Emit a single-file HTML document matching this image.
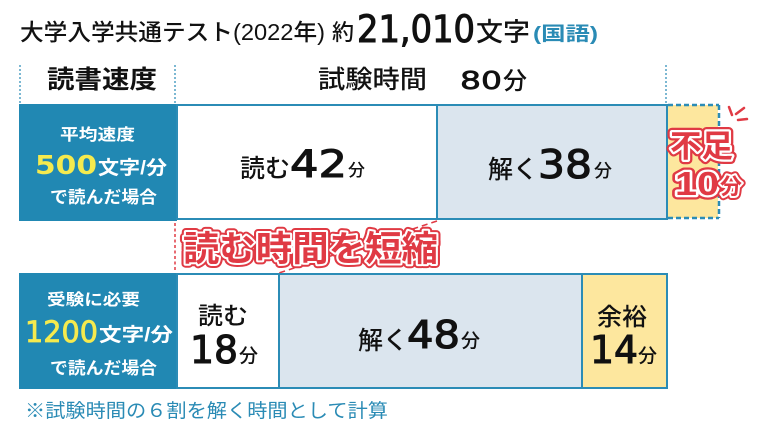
<!DOCTYPE html>
<html><head><meta charset="utf-8"><style>
html,body{margin:0;padding:0;background:#fff;}
svg{display:block;}
text{font-family:"Liberation Sans","Noto Sans CJK JP",sans-serif;}
.d{font-family:"DejaVu Sans","Liberation Sans",sans-serif;}
</style></head><body>
<svg width="768" height="438" viewBox="0 0 768 438" xmlns="http://www.w3.org/2000/svg">
<rect width="768" height="438" fill="#fff"/>
<!-- Title -->
<text x="20" y="40" font-size="23" font-weight="500" fill="#111" textLength="305" lengthAdjust="spacingAndGlyphs">大学入学共通テスト(2022年)</text>
<text x="332" y="40" font-size="22" font-weight="500" fill="#111">約</text>
<text class="d" x="357" y="42" font-size="37" fill="#111" stroke="#111" stroke-width="1.1" textLength="118" lengthAdjust="spacingAndGlyphs">21,010</text>
<text x="476" y="41" font-size="26" font-weight="500" fill="#111" textLength="54" lengthAdjust="spacingAndGlyphs">文字</text>
<text x="533" y="40" font-size="19" font-weight="700" fill="#2a8bb5" textLength="65" lengthAdjust="spacingAndGlyphs">(国語)</text>

<!-- header -->
<g stroke="#3592bb" stroke-width="1.3" stroke-dasharray="2 2">
<line x1="20" y1="65" x2="20" y2="104"/>
<line x1="175" y1="65" x2="175" y2="104"/>
<line x1="666" y1="65" x2="666" y2="104"/>
</g>
<text x="47" y="88" font-size="25" font-weight="700" fill="#111" textLength="110" lengthAdjust="spacingAndGlyphs">読書速度</text>
<text x="318" y="88" font-size="25" font-weight="500" fill="#111" textLength="109" lengthAdjust="spacingAndGlyphs">試験時間</text>
<text class="d" x="460" y="89" font-size="25" fill="#111" stroke="#111" stroke-width="0.7" textLength="42" lengthAdjust="spacingAndGlyphs">80</text>
<text x="503" y="89" font-size="24" font-weight="500" fill="#111">分</text>

<!-- Row 1 -->
<rect x="668" y="105" width="50" height="113" fill="#fde79e"/>
<g stroke="#2b8cb6" stroke-width="2.5" stroke-dasharray="5 3" fill="none">
<line x1="668" y1="105" x2="719" y2="105"/>
<line x1="719" y1="105" x2="719" y2="218"/>
<line x1="668" y1="218" x2="719" y2="218"/>
</g>
<rect x="19" y="104" width="158" height="117" fill="#2188b3"/>
<rect x="177" y="105" width="260" height="114" fill="#fff" stroke="#2b8cb6" stroke-width="2"/>
<rect x="437" y="105" width="230" height="114" fill="#dbe5ee" stroke="#2b8cb6" stroke-width="2"/>

<text x="60" y="140" font-size="16" font-weight="700" fill="#fff" textLength="75" lengthAdjust="spacingAndGlyphs">平均速度</text>
<text class="d" x="35" y="174" font-size="26" font-weight="700" fill="#f5ea4e" textLength="62" lengthAdjust="spacingAndGlyphs">500</text>
<text x="98" y="174" font-size="19" font-weight="700" fill="#fff" textLength="69" lengthAdjust="spacingAndGlyphs">文字/分</text>
<text x="50" y="203" font-size="17" font-weight="700" fill="#fff" textLength="107" lengthAdjust="spacingAndGlyphs">で読んだ場合</text>

<text x="240" y="177" font-size="25" font-weight="500" fill="#111" textLength="50" lengthAdjust="spacingAndGlyphs">読む</text>
<text class="d" x="290" y="177" font-size="37" fill="#111" stroke="#111" stroke-width="1.1" textLength="57" lengthAdjust="spacingAndGlyphs">42</text>
<text x="348" y="176" font-size="17" font-weight="500" fill="#111">分</text>

<text x="488" y="178" font-size="25" font-weight="500" fill="#111" textLength="50" lengthAdjust="spacingAndGlyphs">解く</text>
<text class="d" x="538" y="178" font-size="39" fill="#111" stroke="#111" stroke-width="1.1" textLength="54" lengthAdjust="spacingAndGlyphs">38</text>
<text x="594" y="177" font-size="18" font-weight="500" fill="#111">分</text>

<!-- 不足10分 -->
<g stroke="#e03a44" stroke-width="2.5" stroke-linecap="round">
<line x1="729" y1="107" x2="732" y2="115"/>
<line x1="736" y1="114" x2="744" y2="108"/>
<line x1="738" y1="120" x2="747" y2="119"/>
</g>
<g font-weight="700" font-size="31">
<text x="670" y="157" stroke="#e03a44" stroke-width="9" stroke-linejoin="round" fill="#e03a44" textLength="63" lengthAdjust="spacingAndGlyphs">不足</text>
<text x="670" y="157" stroke="#fff" stroke-width="4.5" stroke-linejoin="round" fill="#fff" textLength="63" lengthAdjust="spacingAndGlyphs">不足</text>
<text x="670" y="157" fill="#e03a44" textLength="63" lengthAdjust="spacingAndGlyphs">不足</text>
</g>
<g font-weight="700">
<text x="675" y="195" font-size="33" stroke="#e03a44" stroke-width="9" stroke-linejoin="round" fill="#e03a44" textLength="44" lengthAdjust="spacingAndGlyphs">10</text>
<text x="675" y="195" font-size="33" stroke="#fff" stroke-width="4.5" stroke-linejoin="round" fill="#fff" textLength="44" lengthAdjust="spacingAndGlyphs">10</text>
<text x="675" y="195" font-size="33" fill="#e03a44" textLength="44" lengthAdjust="spacingAndGlyphs">10</text>
<text x="720" y="194" font-size="22" stroke="#e03a44" stroke-width="8" stroke-linejoin="round" fill="#e03a44">分</text>
<text x="720" y="194" font-size="22" stroke="#fff" stroke-width="4" stroke-linejoin="round" fill="#fff">分</text>
<text x="720" y="194" font-size="22" fill="#e03a44">分</text>
</g>

<!-- 読む時間を短縮 -->
<line x1="175" y1="223" x2="175" y2="272" stroke="#e03a44" stroke-width="1.5" stroke-dasharray="3 2.5"/>
<line x1="437" y1="221" x2="279" y2="273" stroke="#e03a44" stroke-width="1.5" stroke-dasharray="6 4"/>
<g font-weight="700" font-size="35">
<text x="183" y="261" stroke="#e03a44" stroke-width="8" stroke-linejoin="round" fill="#e03a44" textLength="255" lengthAdjust="spacingAndGlyphs">読む時間を短縮</text>
<text x="183" y="261" stroke="#fff" stroke-width="4" stroke-linejoin="round" fill="#fff" textLength="255" lengthAdjust="spacingAndGlyphs">読む時間を短縮</text>
<text x="183" y="261" fill="#e03a44" textLength="255" lengthAdjust="spacingAndGlyphs">読む時間を短縮</text>
</g>

<!-- Row 2 -->
<rect x="19" y="273" width="158" height="116" fill="#2188b3"/>
<rect x="177" y="274" width="102" height="114" fill="#fff" stroke="#2b8cb6" stroke-width="2"/>
<rect x="279" y="274" width="303" height="114" fill="#dbe5ee" stroke="#2b8cb6" stroke-width="2"/>
<rect x="582" y="274" width="85" height="114" fill="#fde79e" stroke="#2b8cb6" stroke-width="2"/>

<text x="47" y="305" font-size="16" font-weight="700" fill="#fff" textLength="93" lengthAdjust="spacingAndGlyphs">受験に必要</text>
<text class="d" x="25" y="342" font-size="29" fill="#f5ea4e" stroke="#f5ea4e" stroke-width="0.8" textLength="73" lengthAdjust="spacingAndGlyphs">1200</text>
<text x="99" y="341" font-size="19" font-weight="700" fill="#fff" textLength="74" lengthAdjust="spacingAndGlyphs">文字/分</text>
<text x="50" y="374" font-size="17" font-weight="700" fill="#fff" textLength="107" lengthAdjust="spacingAndGlyphs">で読んだ場合</text>

<text x="198" y="324" font-size="24" font-weight="500" fill="#111" textLength="50" lengthAdjust="spacingAndGlyphs">読む</text>
<text class="d" x="190" y="363" font-size="38" fill="#111" stroke="#111" stroke-width="1.1" textLength="48" lengthAdjust="spacingAndGlyphs">18</text>
<text x="239" y="362" font-size="19" font-weight="500" fill="#111">分</text>

<text x="358" y="349" font-size="25" font-weight="500" fill="#111" textLength="50" lengthAdjust="spacingAndGlyphs">解く</text>
<text class="d" x="407" y="348" font-size="38" fill="#111" stroke="#111" stroke-width="1.1" textLength="53" lengthAdjust="spacingAndGlyphs">48</text>
<text x="461" y="347" font-size="19" font-weight="500" fill="#111">分</text>

<text x="597" y="325" font-size="24" font-weight="500" fill="#111" textLength="50" lengthAdjust="spacingAndGlyphs">余裕</text>
<text class="d" x="590" y="363" font-size="38" fill="#111" stroke="#111" stroke-width="1.1" textLength="48" lengthAdjust="spacingAndGlyphs">14</text>
<text x="638" y="362" font-size="19" font-weight="500" fill="#111">分</text>

<!-- footnote -->
<text x="25" y="417" font-size="19" fill="#2a8bb5" textLength="363" lengthAdjust="spacingAndGlyphs">※試験時間の６割を解く時間として計算</text>
</svg>
</body></html>
